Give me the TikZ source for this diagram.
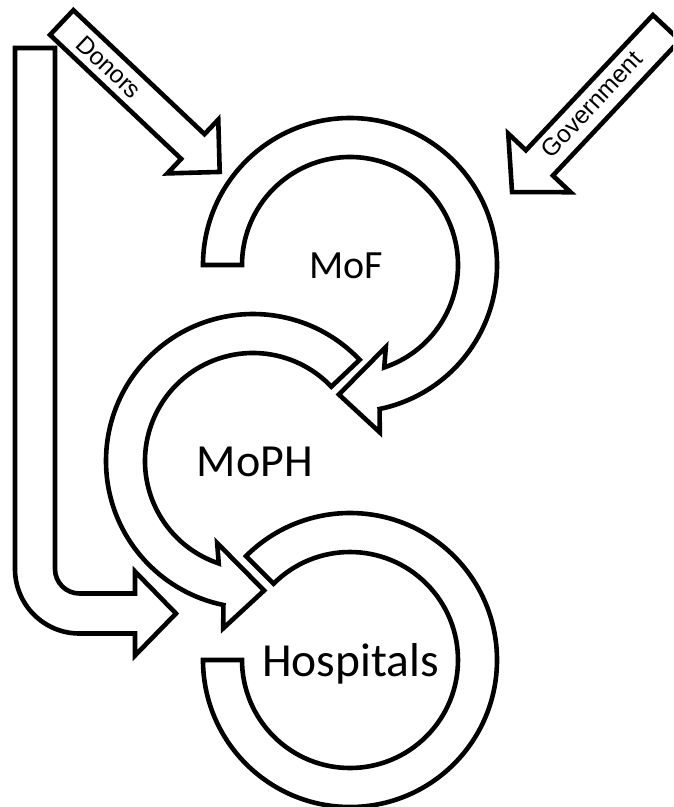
\documentclass[tikz,border=0pt]{standalone}
\usepackage{fontspec}
\setmainfont{Carlito}
\newfontfamily\arrowfont{Liberation Sans}
\usetikzlibrary{calc}

% straight block arrow: tail centre, direction, length, shaft half-width, head half-width, head length
\newcommand{\blockarrowpath}[6]{%
  \pgfmathsetmacro{\bshaft}{#3-#6}%
  \draw[flowshape]
    ($(#1)+(#2-90:#4)$) -- ($(#1)+(#2:\bshaft)+(#2-90:#4)$)
    -- ($(#1)+(#2:\bshaft)+(#2-90:#5)$) -- ($(#1)+(#2:#3)$)
    -- ($(#1)+(#2:\bshaft)+(#2+90:#5)$) -- ($(#1)+(#2:\bshaft)+(#2+90:#4)$)
    -- ($(#1)+(#2+90:#4)$) -- cycle;}

\begin{document}
\begin{tikzpicture}[x=1pt, y=-1pt,
  flowshape/.style={draw=black, fill=white, line width=4.6pt, line join=miter},
  sourcetext/.style={font={\fontspec{Liberation Sans}\fontsize{24.5}{28}\selectfont}, inner sep=0pt},
  bodytext/.style={inner sep=0pt, anchor=base}]
\useasboundingbox (0,0) rectangle (673,807);
\clip (0,0) rectangle (673,807);

% ring centres
\coordinate (cF) at (350,265);
\coordinate (cP) at (253,461);
\coordinate (cH) at (350,660);

% bent arrow from donors straight down to the hospitals
\draw[flowshape] (15,48) -- (55,48) -- (55,569)
  arc[start angle=180, end angle=90, radius=24.5] -- (135,593.5)
  -- (135,571.5) -- (176,613.5) -- (135,655.5) -- (135,633.5) -- (79.5,633.5)
  arc[start angle=90, end angle=180, radius=64.5] -- cycle;

% incoming funding arrows
\coordinate (dT) at (61.7,22.5);
\blockarrowpath{dT}{43.4}{217.5}{17}{37}{37}
\node[sourcetext, rotate=-43.4] (donors) at ($(dT)+(43.4:65)$) {Donors};

\coordinate (gT) at (666.4,27.7);
\blockarrowpath{gT}{133.2}{225.5}{18.5}{42.8}{40}
\node[sourcetext, rotate=46.8] (gov) at ($(gT)+(133.2:107)+(223.2:2)$) {Government};

% MoF ring, clockwise, arrow head at the lower left
\draw[flowshape] ($(cF)+(180:147)$) arc[start angle=180, end angle=438.4, radius=147]
  -- ($(cF)+(439.9:170)$) -- ($(cF)+(454.9:130)$) -- ($(cF)+(426.4:89.5)$)
  -- ($(cF)+(431.5:108)$) arc[start angle=431.5, end angle=180, radius=108] -- cycle;

% MoPH ring, anticlockwise, arrow head at the lower right
\draw[flowshape] ($(cP)+(-43.5:147)$) arc[start angle=-43.5, end angle=-258.4, radius=147]
  -- ($(cP)+(-259.9:170)$) -- ($(cP)+(-274.9:130)$) -- ($(cP)+(-246.4:89.5)$)
  -- ($(cP)+(-251.5:108)$) arc[start angle=-251.5, end angle=-43.5, radius=108] -- cycle;

% Hospitals ring, open at the upper left
\draw[flowshape] ($(cH)+(180:147)$) arc[start angle=180, end angle=-135, radius=147]
  -- ($(cH)+(-135:108)$) arc[start angle=-135, end angle=180, radius=108] -- cycle;

% labels
\node[bodytext, font=\fontsize{40}{48}\selectfont] (mof) at (346,278.3) {MoF};
\node[bodytext, font=\fontsize{46}{54}\selectfont] (moph) at (255,476.7) {MoPH};
\node[bodytext, font=\fontsize{47.5}{56}\selectfont] (hosp) at (350.5,676) {Hospitals};
\end{tikzpicture}
\end{document}
